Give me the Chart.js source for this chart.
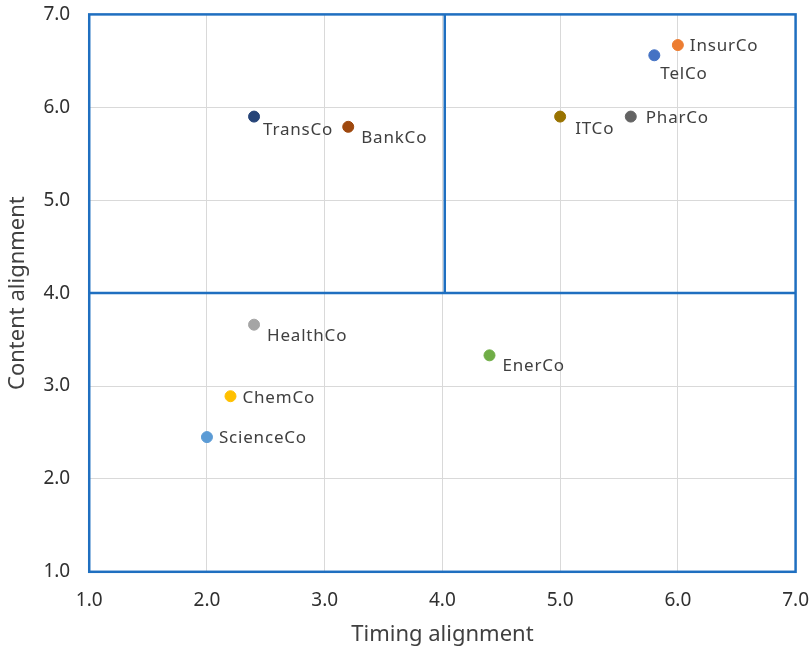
<!DOCTYPE html>
<html>
<head>
<meta charset="utf-8">
<script src="https://cdn.jsdelivr.net/npm/chart.js@4/dist/chart.umd.min.js"></script>
<style>
  html, body { margin: 0; padding: 0; background: #fff; }
  #wrap { width: 809px; height: 650px; }
</style>
</head>
<body>
<div id="wrap"><canvas id="c" width="809" height="650"></canvas></div>
<script>
// Company positions: timing alignment (x) vs content alignment (y)
const companies = ['TransCo', 'BankCo', 'ITCo', 'PharCo', 'TelCo', 'InsurCo', 'HealthCo', 'EnerCo', 'ChemCo', 'ScienceCo'];
const timing    = [2.4, 3.2, 5.0, 5.6, 5.8, 6.0, 2.4, 4.4, 2.2, 2.0];
const content   = [5.9, 5.79, 5.9, 5.9, 6.56, 6.67, 3.66, 3.33, 2.89, 2.45];
const xTicks = [1, 2, 3, 4, 5, 6, 7];
const yTicks = [1, 2, 3, 4, 5, 6, 7];
// Quadrant dividers
const xDivider = 4.02;
const yDivider = 4.0;

const pointColors = ['#264478', '#9E480E', '#997300', '#636363', '#4472C4', '#ED7D31', '#A5A5A5', '#70AD47', '#FFC000', '#5B9BD5'];
// label offsets from each marker, in pixels
const labelOffsets = [[9, 14], [13, 11], [15, 13], [15, 2], [6, 19], [12, 1], [13, 11], [13, 11], [12, 2], [12, 1]];

const blue = '#1F6FC0';
const fontFamily = "'Noto Sans', 'Open Sans', sans-serif";
const textColor = '#404040';
const tickColor = '#303030';

const points = companies.map((n, i) => ({ x: timing[i], y: content[i] }));

const frameAndLabels = {
  id: 'frameAndLabels',
  afterDatasetsDraw(chart) {
    const { ctx, chartArea: a } = chart;
    const xs = chart.scales.x, ys = chart.scales.y;
    ctx.save();
    ctx.strokeStyle = blue;
    ctx.lineWidth = 2.5;
    // quadrant dividers
    ctx.beginPath();
    ctx.moveTo(xs.getPixelForValue(xDivider), ys.getPixelForValue(7));
    ctx.lineTo(xs.getPixelForValue(xDivider), ys.getPixelForValue(yDivider));
    ctx.moveTo(xs.getPixelForValue(1), ys.getPixelForValue(yDivider));
    ctx.lineTo(xs.getPixelForValue(7), ys.getPixelForValue(yDivider));
    ctx.stroke();
    ctx.strokeRect(a.left, a.top, a.right - a.left, a.bottom - a.top);
    // point labels
    ctx.fillStyle = textColor;
    ctx.font = '17px ' + fontFamily;
    if ('letterSpacing' in ctx) ctx.letterSpacing = '0.8px';
    ctx.textBaseline = 'middle';
    ctx.textAlign = 'left';
    const meta = chart.getDatasetMeta(0);
    meta.data.forEach((el, i) => {
      ctx.fillText(companies[i], el.x + labelOffsets[i][0], el.y + labelOffsets[i][1]);
    });
    ctx.restore();
  }
};

new Chart(document.getElementById('c'), {
  type: 'scatter',
  data: {
    datasets: [{
      data: points,
      backgroundColor: pointColors,
      borderColor: pointColors,
      pointRadius: 5.5,
      pointHoverRadius: 5.5
    }]
  },
  options: {
    responsive: false,
    animation: false,
    layout: { padding: { left: 5, right: 0, top: 0, bottom: 2 } },
    plugins: { legend: { display: false }, tooltip: { enabled: false } },
    scales: {
      x: {
        type: 'linear', min: 1, max: 7,
        afterBuildTicks: s => { s.ticks = xTicks.map(v => ({ value: v })); },
        ticks: { callback: v => v.toFixed(1), color: tickColor, font: { size: 19, family: fontFamily }, padding: 0, maxRotation: 0 },
        grid: { color: '#D9D9D9', lineWidth: 1, drawTicks: true, tickLength: 17, tickColor: 'rgba(0,0,0,0)' },
        border: { display: false },
        title: { display: true, text: 'Timing alignment', color: textColor, font: { size: 22, family: fontFamily }, padding: { top: 10, bottom: 0 } }
      },
      y: {
        type: 'linear', min: 1, max: 7,
        afterBuildTicks: s => { s.ticks = yTicks.map(v => ({ value: v })); },
        ticks: { callback: v => v.toFixed(1), color: tickColor, font: { size: 19, family: fontFamily }, padding: 3 },
        grid: { color: '#D9D9D9', lineWidth: 1, drawTicks: true, tickLength: 16, tickColor: 'rgba(0,0,0,0)' },
        border: { display: false },
        title: { display: true, text: 'Content alignment', color: textColor, font: { size: 22, family: fontFamily }, padding: { top: 0, bottom: 9 } }
      }
    }
  },
  plugins: [frameAndLabels]
});
</script>
</body>
</html>
